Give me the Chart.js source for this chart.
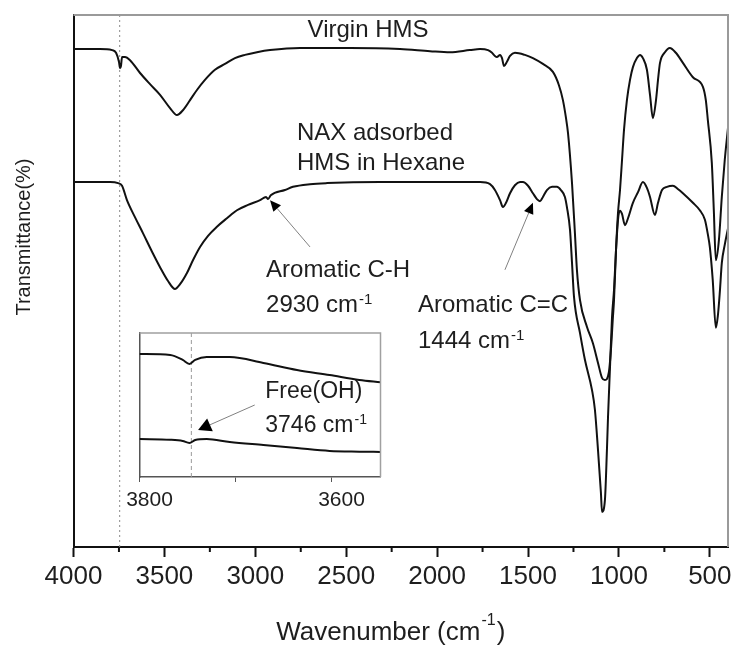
<!DOCTYPE html>
<html>
<head>
<meta charset="utf-8">
<script src="https://cdn.jsdelivr.net/npm/chart.js@4.4.1/dist/chart.umd.min.js"></script>
<style>
  html, body { margin: 0; padding: 0; background: #fff; }
  #wrap { position: relative; width: 737px; height: 646px; }
  #main { position: absolute; left: 0; top: 0; }
  #inset { position: absolute; left: 100px; top: 325px; }
</style>
</head>
<body>
<div id="wrap">
  <canvas id="main" width="737" height="646"></canvas>
  <canvas id="inset" width="290" height="195"></canvas>
</div>
<script>
// --- data (transmittance in arbitrary units, 0-100) ---
const virginWn = [4000, 3854, 3788, 3766, 3750, 3744, 3739, 3733, 3717, 3689, 3634, 3579, 3524, 3469, 3431, 3398, 3359, 3321, 3277, 3222, 3167, 3112, 3057, 2991, 2919, 2754, 2479, 2204, 2039, 1929, 1820, 1764, 1720, 1698, 1682, 1671, 1654, 1643, 1632, 1616, 1599, 1572, 1517, 1473, 1418, 1363, 1330, 1308, 1291, 1280, 1258, 1242, 1231, 1214, 1176, 1143, 1115, 1093, 1077, 1055, 1044, 1033, 1027, 1016, 1005, 994, 983, 972, 956, 939, 923, 901, 884, 868, 846, 829, 813, 796, 785, 774, 747, 720, 687, 648, 593, 538, 522, 511, 489, 478, 467, 450, 434, 418, 400];
const virginT = [93.6, 93.6, 93.4, 92.9, 91.2, 90.0, 90.4, 92.1, 92.1, 91.5, 89.1, 87.0, 85.0, 82.5, 81.2, 82.1, 84.0, 85.9, 87.8, 89.7, 90.8, 91.9, 92.5, 93.0, 93.4, 93.8, 93.8, 93.6, 93.2, 93.0, 93.4, 93.6, 93.4, 92.9, 92.3, 92.1, 92.5, 91.9, 90.4, 91.2, 92.3, 92.9, 92.5, 91.9, 90.8, 89.3, 86.8, 84.0, 80.6, 77.8, 68.4, 59.0, 52.1, 46.4, 41.4, 38.3, 34.6, 31.8, 31.4, 32.9, 37.0, 43.2, 46.4, 55.8, 62.8, 67.1, 72.7, 78.4, 84.0, 87.8, 90.2, 91.9, 92.5, 91.9, 89.7, 85.0, 80.6, 84.0, 87.8, 91.0, 93.0, 93.8, 92.9, 91.0, 88.3, 86.5, 84.0, 80.3, 72.2, 63.3, 53.9, 57.7, 65.8, 72.7, 78.8];

const naxWn = [4000, 3799, 3755, 3733, 3706, 3662, 3618, 3568, 3524, 3480, 3442, 3414, 3376, 3343, 3304, 3260, 3211, 3156, 3101, 3040, 2974, 2941, 2930, 2915, 2837, 2793, 2699, 2606, 2314, 1764, 1709, 1682, 1654, 1638, 1621, 1599, 1572, 1544, 1528, 1500, 1473, 1451, 1434, 1418, 1396, 1368, 1341, 1319, 1297, 1286, 1269, 1258, 1247, 1214, 1187, 1148, 1132, 1115, 1099, 1093, 1077, 1066, 1060, 1049, 1038, 1027, 1016, 1005, 1000, 994, 983, 967, 950, 923, 895, 868, 846, 829, 802, 785, 763, 736, 703, 676, 648, 593, 555, 527, 511, 500, 484, 467, 456, 445, 434, 418, 400];
const naxT = [68.6, 68.6, 68.4, 67.9, 65.2, 62.0, 59.0, 55.5, 52.6, 50.0, 48.5, 49.4, 51.5, 53.9, 56.4, 58.5, 60.2, 61.8, 63.3, 64.3, 65.2, 65.8, 65.4, 66.1, 67.1, 67.7, 68.2, 68.4, 68.6, 68.6, 68.2, 67.1, 65.2, 63.9, 64.7, 66.5, 68.0, 68.6, 68.6, 67.9, 66.5, 65.4, 65.0, 65.8, 67.1, 67.7, 67.7, 67.1, 65.8, 63.9, 59.6, 53.4, 47.0, 40.2, 35.2, 29.5, 25.8, 18.2, 10.2, 6.6, 8.8, 18.2, 24.4, 33.8, 43.2, 48.3, 55.8, 61.5, 62.8, 63.2, 62.6, 60.5, 61.8, 64.7, 66.7, 68.6, 67.5, 65.8, 62.4, 64.7, 67.1, 67.7, 67.9, 67.3, 66.5, 64.7, 63.3, 61.5, 58.8, 56.4, 50.2, 41.2, 43.4, 47.9, 53.4, 56.8, 59.9];

// inset: zoom on the free OH band
const insetWn = [3800, 3768, 3755, 3748, 3742, 3730, 3706, 3671, 3636, 3602, 3571, 3549];
const insetVirginT = [85.4, 84.7, 81.3, 78.5, 81.3, 83.3, 83.3, 79.2, 74.3, 70.8, 67.4, 65.8];
const insetNaxT = [26.4, 25.9, 25.0, 23.6, 25.7, 26.4, 24.3, 22.2, 20.1, 18.1, 17.6, 17.4];

const freeOH = 3746;
const mainTicks = [4000, 3750, 3500, 3250, 3000, 2750, 2500, 2250, 2000, 1750, 1500, 1250, 1000, 750, 500];
const insetTicks = [3800, 3700, 3600];

const FONT = '"Liberation Sans", Arial, Helvetica, sans-serif';
const INK = '#1e1e1e';

const toPts = (xs, ys) => xs.map((x, i) => ({ x: x, y: ys[i] }));

// annotations (placed in data units)
const mainNotes = [
    { text: 'Virgin HMS', wn: 2380, t: 95.9, align: 'center' },
    { text: 'NAX adsorbed', wn: 2771, t: 76.5 },
    { text: 'HMS in Hexane', wn: 2771, t: 70.9 },
    { text: 'Aromatic C-H', wn: 2941, t: 50.8 },
    { text: '2930 cm', sup: '-1', wn: 2941, t: 44.2 },
    { text: 'Aromatic C=C', wn: 2105, t: 44.2 },
    { text: '1444 cm', sup: '-1', wn: 2105, t: 37.4 }
];
const mainArrows = [
    { from: [2699, 56.4], to: [2919, 65.2] },
    { from: [1627, 52.1], to: [1473, 64.7] }
];
const insetNotes = [
    { text: 'Free(OH)', wn: 3669, t: 54.9 },
    { text: '3746 cm', sup: '-1', wn: 3669, t: 31.3 }
];
const insetArrows = [
    { from: [3680, 50.0], to: [3739, 32.6] }
];

function drawArrow(ctx, x1, y1, x2, y2, len, half) {
    const a = Math.atan2(y2 - y1, x2 - x1);
    const bx = x2 - len * Math.cos(a), by = y2 - len * Math.sin(a);
    ctx.save();
    ctx.strokeStyle = '#808080';
    ctx.lineWidth = 1;
    ctx.beginPath();
    ctx.moveTo(x1, y1);
    ctx.lineTo(bx, by);
    ctx.stroke();
    ctx.fillStyle = '#000';
    ctx.beginPath();
    ctx.moveTo(x2, y2);
    ctx.lineTo(bx + half * Math.sin(a), by - half * Math.cos(a));
    ctx.lineTo(bx - half * Math.sin(a), by + half * Math.cos(a));
    ctx.closePath();
    ctx.fill();
    ctx.restore();
}

function drawNote(ctx, note, x, y, size) {
    const supSize = Math.round(size * 0.62);
    ctx.save();
    ctx.fillStyle = INK;
    ctx.textBaseline = 'alphabetic';
    ctx.textAlign = 'left';
    ctx.font = size + 'px ' + FONT;
    const w = ctx.measureText(note.text).width;
    ctx.font = supSize + 'px ' + FONT;
    const sw = note.sup ? ctx.measureText(note.sup).width : 0;
    let x0 = note.align === 'center' ? x - (w + sw) / 2 : x;
    ctx.font = size + 'px ' + FONT;
    ctx.fillText(note.text, x0, y);
    if (note.sup) {
        ctx.font = supSize + 'px ' + FONT;
        ctx.fillText(note.sup, x0 + w + 1, y - size * 0.33);
    }
    ctx.restore();
}

// --- main chart decorations ---
const mainDecor = {
    id: 'mainDecor',
    afterDraw(chart) {
        const ctx = chart.ctx;
        const { left, right, top, bottom } = chart.chartArea;
        const xs = chart.scales.x, ys = chart.scales.y;

        // grey top / right frame
        ctx.save();
        ctx.strokeStyle = '#9a9a9a';
        ctx.lineWidth = 2;
        ctx.beginPath();
        ctx.moveTo(left, top);
        ctx.lineTo(right, top);
        ctx.lineTo(right, bottom);
        ctx.stroke();

        // short minor ticks
        ctx.strokeStyle = '#111';
        ctx.lineWidth = 2;
        mainTicks.filter(v => v % 500 !== 0).forEach(v => {
            const px = xs.getPixelForValue(v);
            ctx.beginPath();
            ctx.moveTo(px, bottom);
            ctx.lineTo(px, bottom + 5);
            ctx.stroke();
        });
        ctx.restore();

        mainNotes.forEach(n => drawNote(ctx, n, xs.getPixelForValue(n.wn), ys.getPixelForValue(n.t), 24));
        mainArrows.forEach(a => drawArrow(ctx,
            xs.getPixelForValue(a.from[0]), ys.getPixelForValue(a.from[1]),
            xs.getPixelForValue(a.to[0]), ys.getPixelForValue(a.to[1]), 11, 5));

        // axis titles
        ctx.save();
        ctx.fillStyle = INK;
        ctx.font = '20px ' + FONT;
        ctx.textAlign = 'center';
        ctx.textBaseline = 'middle';
        ctx.translate(24, 237);
        ctx.rotate(-Math.PI / 2);
        ctx.fillText('Transmittance(%)', 0, 0);
        ctx.restore();

        ctx.save();
        ctx.fillStyle = INK;
        const t1 = 'Wavenumber (cm', t2 = ')';
        ctx.font = '26px ' + FONT;
        const w1 = ctx.measureText(t1).width, w3 = ctx.measureText(t2).width;
        ctx.font = '16px ' + FONT;
        const w2 = ctx.measureText('-1').width;
        const cx = (left + right) / 2 - 10;
        const x0 = cx - (w1 + w2 + w3 + 2) / 2;
        const base = 640;
        ctx.textBaseline = 'alphabetic';
        ctx.font = '26px ' + FONT;
        ctx.fillText(t1, x0, base);
        ctx.font = '16px ' + FONT;
        ctx.fillText('-1', x0 + w1 + 1, base - 15);
        ctx.font = '26px ' + FONT;
        ctx.fillText(t2, x0 + w1 + w2 + 2, base);
        ctx.restore();
    }
};

new Chart(document.getElementById('main'), {
    type: 'line',
    data: {
        datasets: [
            { label: 'Virgin HMS', data: toPts(virginWn, virginT), borderColor: '#111', borderWidth: 2, pointRadius: 0, cubicInterpolationMode: 'monotone' },
            { label: 'NAX adsorbed HMS in Hexane', data: toPts(naxWn, naxT), borderColor: '#111', borderWidth: 2, pointRadius: 0, cubicInterpolationMode: 'monotone' },
            { label: 'Free OH 3746', data: [{ x: freeOH, y: 0 }, { x: freeOH, y: 100 }], borderColor: '#8a8a8a', borderWidth: 1, borderDash: [2, 3], pointRadius: 0 }
        ]
    },
    options: {
        responsive: false,
        animation: false,
        layout: { padding: { top: 15, right: 9, left: 0, bottom: 0 } },
        plugins: { legend: { display: false }, tooltip: { enabled: false } },
        scales: {
            x: {
                type: 'linear', reverse: true, min: 400, max: 4000,
                afterBuildTicks: s => { s.ticks = mainTicks.map(v => ({ value: v })); },
                afterFit: s => { s.height = 99; },
                ticks: {
                    callback: v => (v % 500 === 0 ? String(v) : ''),
                    font: { family: FONT, size: 26 }, color: INK,
                    padding: 4, maxRotation: 0, autoSkip: false
                },
                grid: {
                    drawOnChartArea: false, tickLength: 10, tickWidth: 2,
                    tickColor: c => (c.tick && c.tick.value % 500 === 0 ? '#111' : 'rgba(0,0,0,0)')
                },
                border: { color: '#111', width: 2 }
            },
            y: {
                min: 0, max: 100,
                afterFit: s => { s.width = 73.5; },
                ticks: { display: false },
                grid: { drawOnChartArea: false, drawTicks: false },
                border: { color: '#111', width: 2 }
            }
        }
    },
    plugins: [mainDecor]
});

// --- inset ---
const insetDecor = {
    id: 'insetDecor',
    afterDraw(chart) {
        const ctx = chart.ctx;
        const { left, right, top, bottom } = chart.chartArea;
        const xs = chart.scales.x, ys = chart.scales.y;
        ctx.save();
        ctx.strokeStyle = '#a0a0a0';
        ctx.lineWidth = 1.5;
        ctx.beginPath();
        ctx.moveTo(left, top);
        ctx.lineTo(right, top);
        ctx.lineTo(right, bottom);
        ctx.stroke();
        ctx.restore();
        insetNotes.forEach(n => drawNote(ctx, n, xs.getPixelForValue(n.wn), ys.getPixelForValue(n.t), 23));
        insetArrows.forEach(a => drawArrow(ctx,
            xs.getPixelForValue(a.from[0]), ys.getPixelForValue(a.from[1]),
            xs.getPixelForValue(a.to[0]), ys.getPixelForValue(a.to[1]), 13, 7));
    }
};

new Chart(document.getElementById('inset'), {
    type: 'line',
    data: {
        datasets: [
            { label: 'Virgin HMS', data: toPts(insetWn, insetVirginT), borderColor: '#111', borderWidth: 2, pointRadius: 0, cubicInterpolationMode: 'monotone' },
            { label: 'NAX adsorbed', data: toPts(insetWn, insetNaxT), borderColor: '#111', borderWidth: 2, pointRadius: 0, cubicInterpolationMode: 'monotone' },
            { label: 'Free OH 3746', data: [{ x: freeOH, y: 0 }, { x: freeOH, y: 100 }], borderColor: '#9a9a9a', borderWidth: 1, borderDash: [4, 3], pointRadius: 0 }
        ]
    },
    options: {
        responsive: false,
        animation: false,
        layout: { padding: { top: 8, right: 9.5, left: 0, bottom: 0 } },
        plugins: { legend: { display: false }, tooltip: { enabled: false } },
        scales: {
            x: {
                type: 'linear', reverse: true, min: 3549, max: 3800,
                afterBuildTicks: s => { s.ticks = insetTicks.map(v => ({ value: v })); },
                afterFit: s => { s.height = 43; },
                ticks: {
                    callback: v => (v === 3700 ? '' : String(v)),
                    font: { family: FONT, size: 21 }, color: INK,
                    labelOffset: 10, padding: 6, maxRotation: 0, autoSkip: false
                },
                grid: { drawOnChartArea: false, tickLength: 5, tickWidth: 1, tickColor: '#555' },
                border: { color: '#555', width: 1.5 }
            },
            y: {
                min: 0, max: 100,
                afterFit: s => { s.width = 39.5; },
                ticks: { display: false },
                grid: { drawOnChartArea: false, drawTicks: false },
                border: { color: '#555', width: 1.5 }
            }
        }
    },
    plugins: [insetDecor]
});
</script>
</body>
</html>
